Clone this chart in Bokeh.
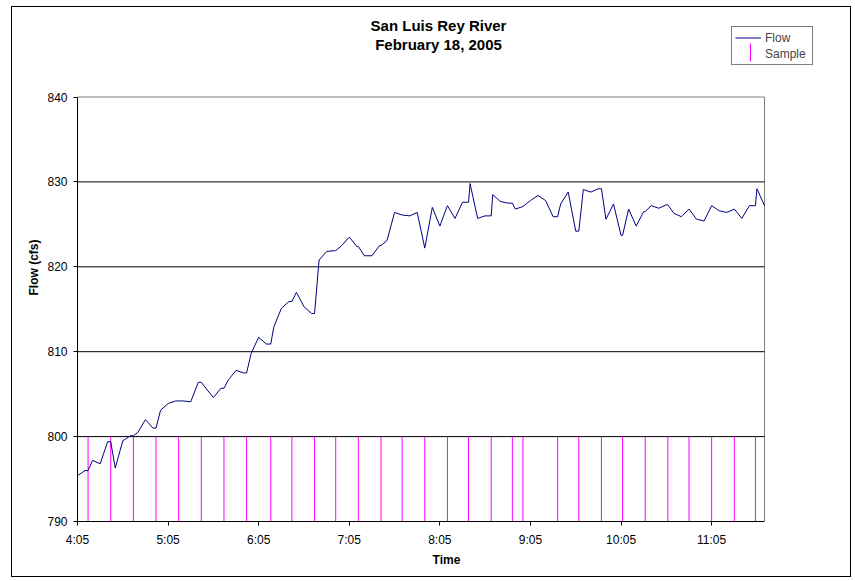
from bokeh.plotting import figure
from bokeh.models import (FixedTicker, Legend, LegendItem, ColumnDataSource, Label,
                          Range1d)
from bokeh.embed import file_html
from bokeh.resources import INLINE

# ---------------- data ----------------
flow_start = "4:05"
flow_step_min = 5
flow_cfs = [
    795.4, 796.0, 797.2, 796.8, 799.4, 796.3, 799.5, 800.1, 800.5, 802.0,
    801.0, 803.1, 803.9, 804.2, 804.2, 804.1, 806.4, 805.7, 804.6, 805.7,
    806.7, 807.8, 807.5, 809.8, 811.7, 810.9, 812.9, 815.1, 815.9, 817.0,
    815.3, 814.5, 820.8, 821.8, 821.9, 822.5, 823.5, 822.4, 821.3, 821.3,
    822.5, 823.1, 826.4, 826.1, 826.0, 826.4, 822.2, 827.0, 824.8, 827.2,
    825.7, 827.6, 829.8, 825.7, 826.0, 828.5, 827.7, 827.5, 826.8, 827.1,
    827.8, 828.4, 827.8, 825.9, 827.4, 828.8, 824.2, 829.1, 828.8, 829.2,
    825.6, 827.4, 823.7, 826.8, 824.8, 826.5, 827.2, 826.9, 827.3, 826.3,
    825.9, 826.8, 825.6, 825.4, 827.2, 826.6, 826.4, 826.8, 825.7, 827.2,
    829.2, 827.2,
]
sample_times = [
    "4:12", "4:27", "4:42", "4:57", "5:12", "5:27", "5:42", "5:57", "6:13", "6:27",
    "6:42", "6:56", "7:11", "7:26", "7:40", "7:55", "8:10", "8:24", "8:39", "8:53",
    "9:00", "9:23", "9:37", "9:52", "10:06", "10:21", "10:36", "10:50", "11:05", "11:20",
    "11:34",
]
sample_marker_low = 790
sample_marker_high = 800
x_start, x_end = "4:05", "11:40"
x_tick_labels = ["4:05", "5:05", "6:05", "7:05", "8:05", "9:05", "10:05", "11:05"]
y_ticks = [790, 800, 810, 820, 830, 840]
title_lines = ["San Luis Rey River", "February 18, 2005"]


def to_min(s):
    h, m = s.split(":")
    return int(h) * 60 + int(m)


t0 = to_min(flow_start)
flow_t = [t0 + i * flow_step_min for i in range(len(flow_cfs))]
sample_t = [to_min(s) for s in sample_times]

# flow record includes rows at sample times (value held from previous reading)
rows = list(zip(flow_t, flow_cfs))
for st in sample_t:
    if st in flow_t:
        continue
    prev = max(i for i, ft in enumerate(flow_t) if ft <= st)
    rows.append((st, flow_cfs[prev]))
rows.sort(key=lambda r: r[0])
line_src = ColumnDataSource(data=dict(t=[r[0] for r in rows], q=[r[1] for r in rows]))
samp_src = ColumnDataSource(data=dict(t=sample_t,
                                      lo=[sample_marker_low] * len(sample_t),
                                      hi=[sample_marker_high] * len(sample_t)))

# ---------------- layout (pixels) ----------------
FONT = "Liberation Sans"
SAMPLE_COLOR = "#FF00FF"
FLOW_COLOR = "#000080"
PLOT_W, PLOT_H = 687, 424.5          # plot-area size
EXTRA_TOP, EXTRA_RIGHT = 83.5, 51    # room inside the frame for titles / legend
x0m, x1m = to_min(x_start), to_min(x_end)
ymin, ymax = y_ticks[0], y_ticks[-1]
px_min = PLOT_W / (x1m - x0m)
px_cfs = PLOT_H / (ymax - ymin)
FRAME_W = int(PLOT_W + EXTRA_RIGHT)
FRAME_H = int(round(PLOT_H + EXTRA_TOP))

p = figure(width=838, height=569, frame_width=FRAME_W, frame_height=FRAME_H,
           min_border_left=65, min_border_right=35, min_border_top=6, min_border_bottom=55,
           x_range=Range1d(x0m, x0m + FRAME_W / px_min),
           y_range=Range1d(ymin, ymin + FRAME_H / px_cfs),
           output_backend="svg", toolbar_location=None, title=None)
p.margin = (6, 0, 0, 11)
p.styles = {"border": "1px solid #000000", "box-sizing": "border-box"}
p.background_fill_color = "white"
p.border_fill_color = "white"
p.outline_line_color = None

# plot-area border and horizontal gridlines
p.quad(left=[x0m], right=[x1m], bottom=[ymin], top=[ymax],
       fill_color=None, line_color="#808080", line_width=1)
grid_y = y_ticks[1:-1]
p.segment(x0=[x0m] * len(grid_y), x1=[x1m] * len(grid_y), y0=grid_y, y1=grid_y,
          line_color="black", line_width=1)

sample_r = p.segment(x0="t", y0="lo", x1="t", y1="hi", source=samp_src,
                     line_color=SAMPLE_COLOR, line_width=1)
flow_r = p.line(x="t", y="q", source=line_src, line_color=FLOW_COLOR, line_width=1)
legend_sample = p.vspan(x=[], line_color=SAMPLE_COLOR, line_width=1)

# vertical key mark for the "Sample" legend entry (legend box lies inside the frame)
key_px_x, key_px_y0, key_px_y1 = 673, 460, 478   # pixels from frame bottom-left
p.segment(x0=[x0m + key_px_x / px_min], x1=[x0m + key_px_x / px_min],
          y0=[ymin + key_px_y0 / px_cfs], y1=[ymin + key_px_y1 / px_cfs],
          line_color=SAMPLE_COLOR, line_width=1)

# axes
p.xaxis.ticker = FixedTicker(ticks=[to_min(s) for s in x_tick_labels])
p.xaxis.major_label_overrides = {to_min(s): s for s in x_tick_labels}
p.yaxis.ticker = FixedTicker(ticks=y_ticks)
p.xaxis.bounds = (x0m, x1m)
p.yaxis.bounds = (ymin, ymax)
for ax in (p.xaxis, p.yaxis):
    ax.axis_line_color = "black"
    ax.major_tick_line_color = "black"
    ax.major_tick_out = 4
    ax.major_tick_in = 0
    ax.minor_tick_line_color = None
    ax.major_label_text_font = FONT
    ax.major_label_text_font_size = "12px"
    ax.major_label_text_color = "black"
    ax.axis_label_text_font = FONT
    ax.axis_label_text_font_size = "12px"
    ax.axis_label_text_font_style = "bold"
    ax.axis_label_text_color = "black"
p.xaxis.axis_label = "Time"
p.yaxis.axis_label = "Flow (cfs)"
p.xaxis.major_label_standoff = 7
p.yaxis.major_label_standoff = 6
p.xaxis.axis_label_standoff = 3
p.yaxis.axis_label_standoff = 3
p.xgrid.grid_line_color = None
p.ygrid.grid_line_color = None

# titles (inside the frame, above the plot area)
for txt, yoff in zip(title_lines, (496, 477)):
    p.add_layout(Label(x=361, y=yoff, x_units="screen", y_units="screen", text=txt,
                       text_align="center", text_baseline="middle",
                       text_font=FONT, text_font_size="15px", text_font_style="bold",
                       text_color="black"))

legend = Legend(items=[LegendItem(label="Flow", renderers=[flow_r]),
                       LegendItem(label="Sample", renderers=[legend_sample])],
                location=(654, 456), orientation="vertical",
                glyph_width=26, glyph_height=15, label_height=15, label_width=44,
                spacing=1, padding=3, margin=0, label_standoff=4,
                label_text_font=FONT, label_text_font_size="12px",
                border_line_color="black", border_line_width=1,
                background_fill_color=None)
p.add_layout(legend, "center")

open("out.html", "w").write(file_html(p, INLINE))
